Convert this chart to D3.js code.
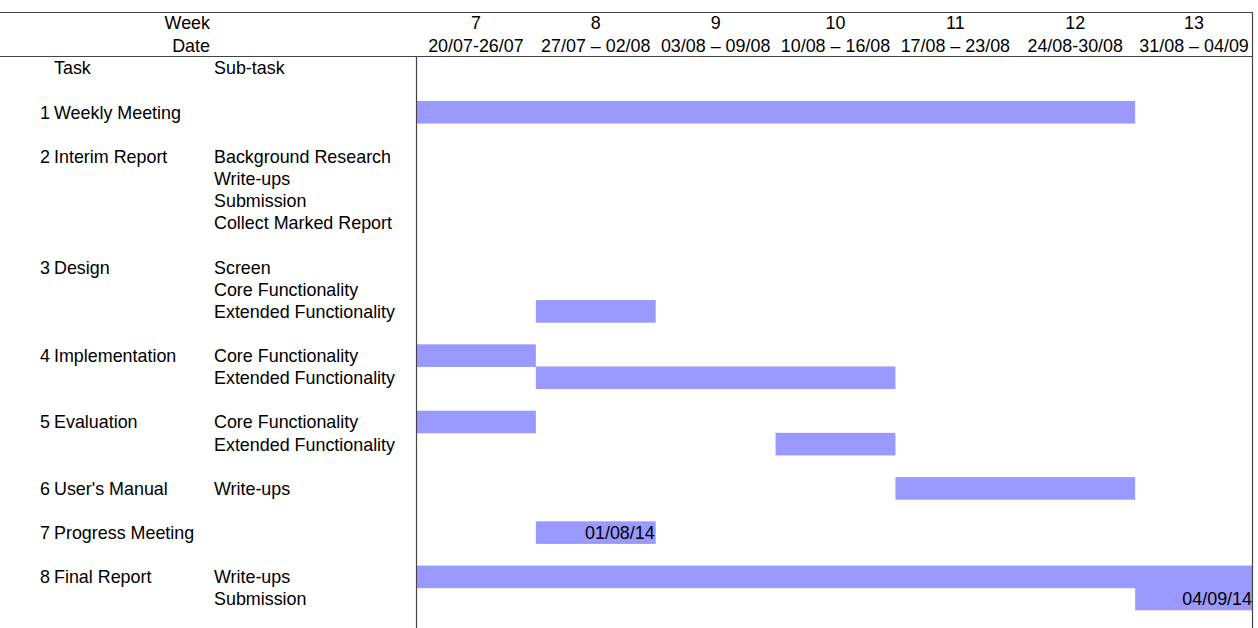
<!DOCTYPE html>
<html>
<head>
<meta charset="utf-8">
<script src="https://cdn.jsdelivr.net/npm/d3@7"></script>
<style>
  body { margin: 0; background: #fff; }
  text { font-family: "Liberation Sans", Arial, sans-serif; font-size: 17.9px; fill: #000; }
</style>
</head>
<body>
<div id="chart"></div>
<script>
var svgWidth = 1258;
var svgHeight = 628;

// header columns
var weeks = ["7", "8", "9", "10", "11", "12", "13"];
var dates = ["20/07-26/07", "27/07 \u2013 02/08", "03/08 \u2013 09/08", "10/08 \u2013 16/08",
  "17/08 \u2013 23/08", "24/08-30/08", "31/08 \u2013 04/09"];

// tasks (row index in the table)
var taskNames = ["Weekly Meeting", "Interim Report", "Design", "Implementation",
  "Evaluation", "User's Manual", "Progress Meeting", "Final Report"];
var taskRows = [2, 4, 9, 13, 16, 19, 21, 23];

// sub-tasks
var subNames = ["Background Research", "Write-ups", "Submission", "Collect Marked Report",
  "Screen", "Core Functionality", "Extended Functionality",
  "Core Functionality", "Extended Functionality",
  "Core Functionality", "Extended Functionality",
  "Write-ups", "Write-ups", "Submission"];
var subRows = [4, 5, 6, 7, 9, 10, 11, 13, 14, 16, 17, 19, 23, 24];

// bars: row, start week offset, end week offset, label
var barRows = [2, 11, 13, 14, 16, 17, 19, 21, 23, 24];
var barStart = [0, 1, 0, 1, 0, 3, 4, 1, 0, 6];
var barEnd = [6, 2, 1, 4, 1, 4, 6, 2, 7, 7];
var barLabels = ["", "", "", "", "", "", "", "01/08/14", "", "04/09/14"];

var svg = d3.select("#chart")
  .append("svg")
  .attr("width", svgWidth)
  .attr("height", svgHeight);

var rightEdge = 1253;
var x = d3.scaleLinear().domain([0, 7]).range([416, 1255]);
var y = d3.scaleLinear().domain([0, 24]).range([68, 599]);
var rowH = 22.6;

// bars
var bars = barRows.map(function(r, i) {
  return { row: r, s: barStart[i], e: barEnd[i], label: barLabels[i] };
});

svg.selectAll("rect.bar")
  .data(bars)
  .enter()
  .append("rect")
  .attr("class", "bar")
  .attr("x", d => x(d.s))
  .attr("y", d => y(d.row) - rowH / 2)
  .attr("width", d => Math.min(x(d.e), rightEdge) - x(d.s))
  .attr("height", rowH)
  .attr("fill", "#9999ff");

svg.selectAll("text.barlabel")
  .data(bars.filter(d => d.label))
  .enter()
  .append("text")
  .attr("class", "barlabel")
  .attr("x", d => Math.min(x(d.e), rightEdge) - 1)
  .attr("y", d => y(d.row))
  .attr("dy", "0.36em")
  .attr("text-anchor", "end")
  .text(d => d.label);

// header
var colMid = d => (x(d) + Math.min(x(d + 1), rightEdge)) / 2;
svg.selectAll("text.week")
  .data(weeks)
  .enter()
  .append("text")
  .attr("x", (d, i) => colMid(i))
  .attr("y", 23)
  .attr("dy", "0.36em")
  .attr("text-anchor", "middle")
  .text(d => d);

svg.selectAll("text.date")
  .data(dates)
  .enter()
  .append("text")
  .attr("x", (d, i) => colMid(i))
  .attr("y", 46)
  .attr("dy", "0.36em")
  .attr("text-anchor", "middle")
  .text(d => d);

svg.append("text").attr("x", 210).attr("y", 23).attr("dy", "0.36em")
  .attr("text-anchor", "end").text("Week");
svg.append("text").attr("x", 210).attr("y", 46).attr("dy", "0.36em")
  .attr("text-anchor", "end").text("Date");

svg.append("text").attr("x", 54).attr("y", y(0)).attr("dy", "0.36em").text("Task");
svg.append("text").attr("x", 214).attr("y", y(0)).attr("dy", "0.36em").text("Sub-task");

// task labels
svg.selectAll("text.num")
  .data(taskNames)
  .enter()
  .append("text")
  .attr("x", 40)
  .attr("y", (d, i) => y(taskRows[i]))
  .attr("dy", "0.36em")
  .text((d, i) => i + 1);

svg.selectAll("text.task")
  .data(taskNames)
  .enter()
  .append("text")
  .attr("x", 54)
  .attr("y", (d, i) => y(taskRows[i]))
  .attr("dy", "0.36em")
  .text(d => d);

svg.selectAll("text.sub")
  .data(subNames)
  .enter()
  .append("text")
  .attr("x", 214)
  .attr("y", (d, i) => y(subRows[i]))
  .attr("dy", "0.36em")
  .text(d => d);

// grid lines
var lineColor = "#444";
svg.append("line").attr("x1", 0).attr("x2", rightEdge).attr("y1", 12.5).attr("y2", 12.5)
  .attr("stroke", lineColor).attr("stroke-width", 1.2);
svg.append("line").attr("x1", 0).attr("x2", rightEdge).attr("y1", 56.5).attr("y2", 56.5)
  .attr("stroke", lineColor).attr("stroke-width", 1.2);
svg.append("line").attr("x1", 416.5).attr("x2", 416.5).attr("y1", 56.5).attr("y2", svgHeight)
  .attr("stroke", lineColor).attr("stroke-width", 1.2);
svg.append("line").attr("x1", rightEdge - 0.5).attr("x2", rightEdge - 0.5).attr("y1", 12.5).attr("y2", svgHeight)
  .attr("stroke", lineColor).attr("stroke-width", 1.2);
</script>
</body>
</html>
